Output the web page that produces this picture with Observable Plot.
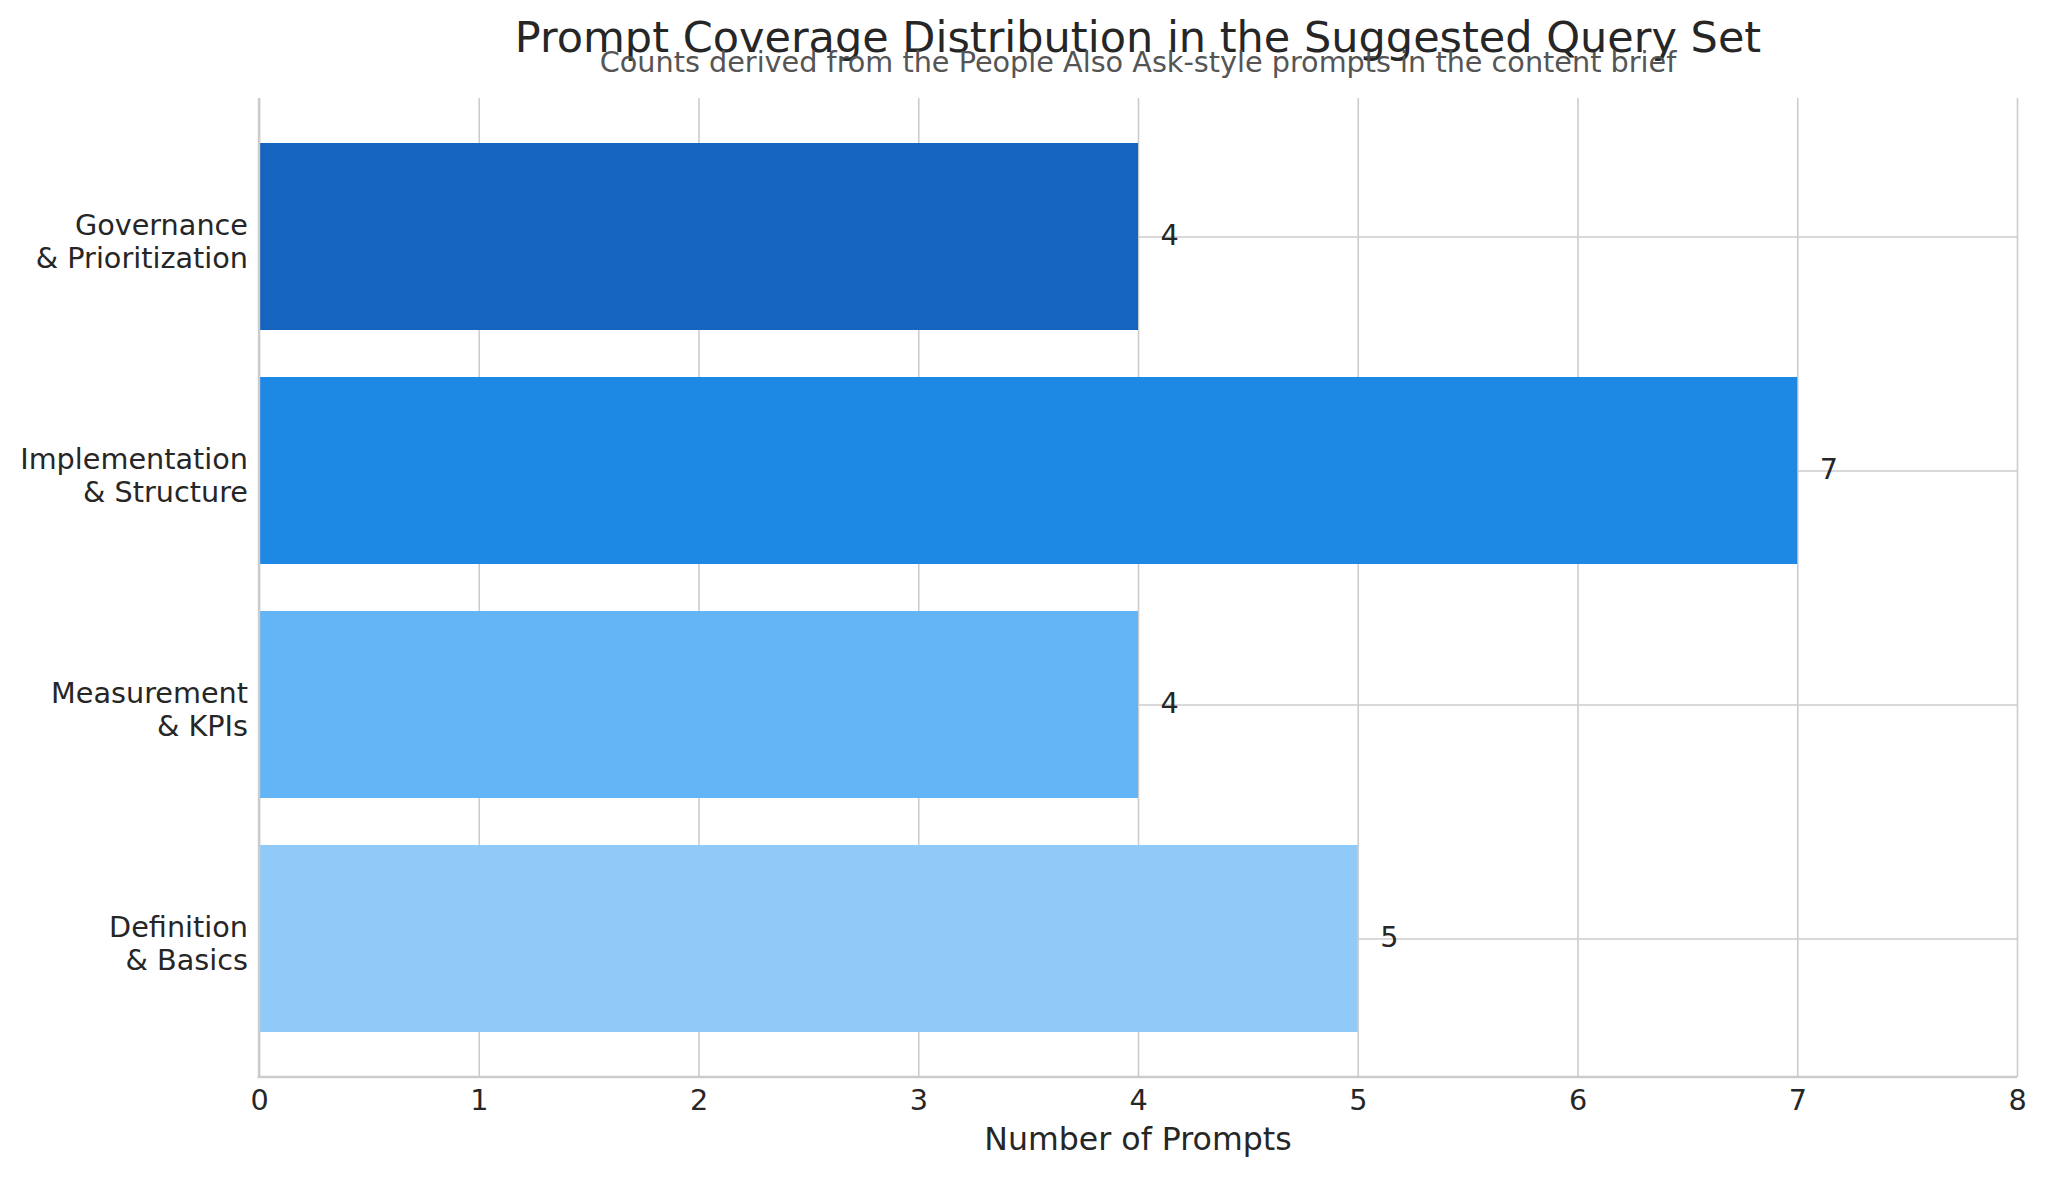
<!DOCTYPE html>
<html>
<head>
<meta charset="utf-8">
<script src="https://cdn.jsdelivr.net/npm/d3@7"></script>
<script src="https://cdn.jsdelivr.net/npm/@observablehq/plot@0.6"></script>
<style>
  body { margin: 0; background: #fff; font-family: "DejaVu Sans", sans-serif; }
  #wrap { position: relative; width: 2048px; height: 1179px; overflow: hidden; }
  #chart { position: absolute; left: 0; top: 0; }
  .t { position: absolute; left: 259px; width: 1758px; text-align: center; line-height: 1; white-space: nowrap; }
  #title { top: 16.3px; font-size: 43px; color: #262626; }
  #subtitle { top: 48.4px; font-size: 28.7px; color: #555555; }
  #xlabel { top: 1124.3px; font-size: 31.6px; color: #262626; }
</style>
</head>
<body>
<div id="wrap">
  <div id="chart"></div>
  <div class="t" id="title">Prompt Coverage Distribution in the Suggested Query Set</div>
  <div class="t" id="subtitle">Counts derived from the People Also Ask-style prompts in the content brief</div>
  <div class="t" id="xlabel">Number of Prompts</div>
</div>
<script>
// Data (bottom to top, as in the reference)
const categories = [
  "Definition\n& Basics",
  "Measurement\n& KPIs",
  "Implementation\n& Structure",
  "Governance\n& Prioritization"
];
const counts = [5, 4, 7, 4];
const barColors = ["#90CAF9", "#64B5F6", "#1E88E5", "#1565C0"];
const xTicks = [0, 1, 2, 3, 4, 5, 6, 7, 8];

const data = categories.map((c, i) => ({ category: c, count: counts[i] }));

const gridColor = "#cccccc";
const textColor = "#262626";

const bottomSpine = (index, scales, values, dims) => {
  const l = d3.create("svg:line")
    .attr("x1", dims.marginLeft - 1.5)
    .attr("x2", dims.width - dims.marginRight)
    .attr("y1", dims.height - dims.marginBottom)
    .attr("y2", dims.height - dims.marginBottom)
    .attr("stroke", gridColor)
    .attr("stroke-width", 2.4);
  return l.node();
};

const chart = Plot.plot({
  width: 2048,
  height: 1179,
  marginTop: 98,
  marginBottom: 102,
  marginLeft: 259,
  marginRight: 31,
  style: { fontFamily: "DejaVu Sans", background: "white", color: textColor, overflow: "visible" },
  x: { domain: [0, 8], axis: null },
  y: { domain: [...categories].reverse(), paddingInner: 0.2, paddingOuter: 0.19, axis: null },
  color: { domain: categories, range: barColors },
  marks: [
    Plot.gridX(xTicks, { stroke: gridColor, strokeOpacity: 1, strokeWidth: 1.6 }),
    Plot.gridY(categories, { stroke: gridColor, strokeOpacity: 1, strokeWidth: 1.6 }),
    Plot.barX(data, { x: "count", y: "category", fill: "category" }),
    Plot.ruleX([0], { stroke: gridColor, strokeWidth: 2.4, dx: -0.5 }),
    bottomSpine,
    Plot.axisX(xTicks, {
      tickSize: 0, tickPadding: 12.3, fontSize: 28.7, fill: textColor,
      label: null, tickFormat: d3.format("d")
    }),
    Plot.text(data, {
      y: "category", text: "category", frameAnchor: "left", textAnchor: "end",
      dx: -11.5, dy: 3.8, lineHeight: 1.16, fontSize: 28.7, fill: textColor
    }),
    Plot.text(data, {
      x: d => d.count + 0.1, y: "category", text: d => String(d.count),
      textAnchor: "start", fontSize: 28.7, dy: -1.5, fill: textColor
    })
  ]
});
document.getElementById("chart").appendChild(chart);
</script>
</body>
</html>
